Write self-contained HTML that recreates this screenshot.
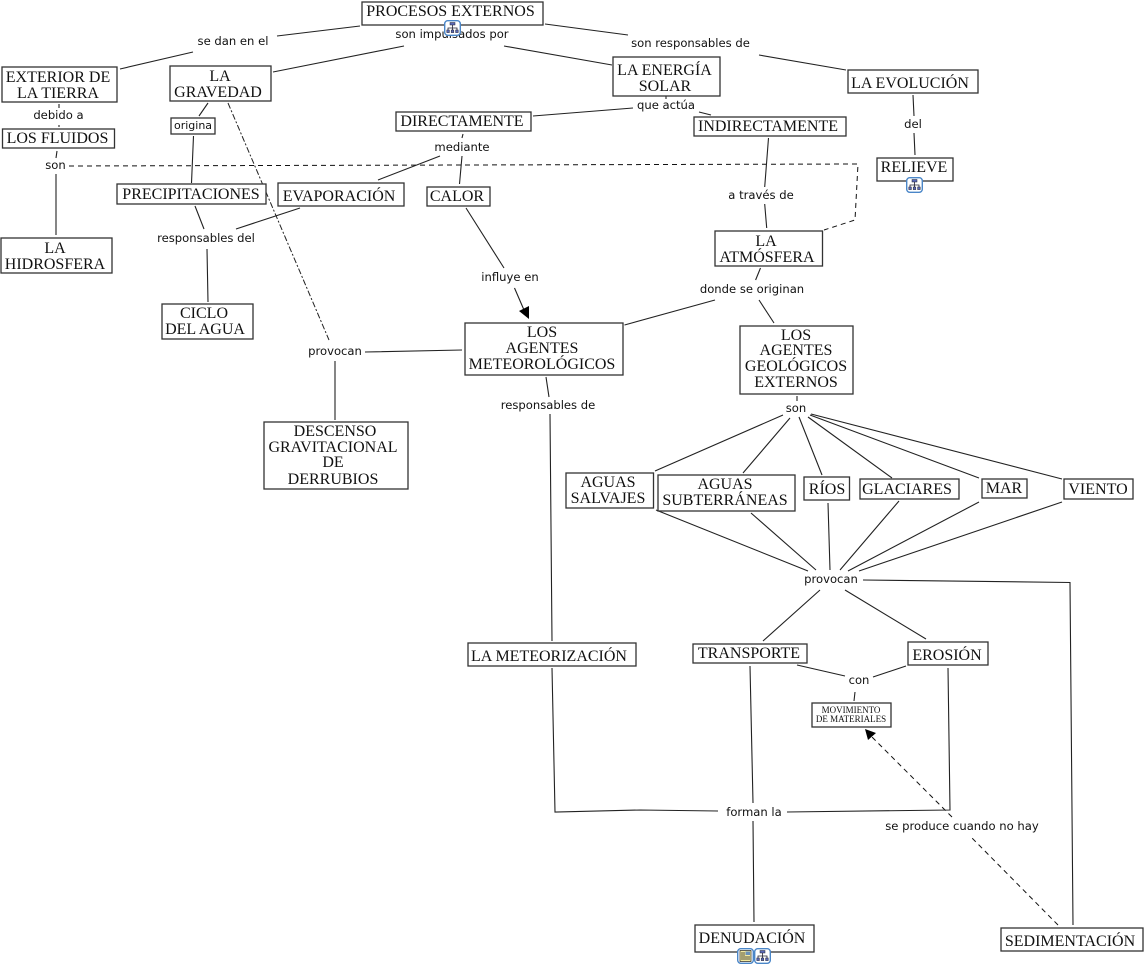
<!DOCTYPE html>
<html><head><meta charset="utf-8"><style>
html,body{margin:0;padding:0;background:#fff;width:1146px;height:967px;overflow:hidden}
svg{display:block}
.n{font-family:"Liberation Serif",serif;font-size:16px;fill:#111;text-anchor:middle}
.l{font-family:"DejaVu Sans","Liberation Sans",sans-serif;font-size:11.6px;fill:#111;text-anchor:middle}
.b{fill:#fff;stroke:#333;stroke-width:1.3}
.c{fill:none;stroke:#222;stroke-width:1.1}
.d{fill:none;stroke:#111;stroke-width:1;stroke-dasharray:5 4}
.dd{fill:none;stroke:#222;stroke-width:1;stroke-dasharray:6 2 2 2}
</style></head><body>
<svg width="1146" height="967" viewBox="0 0 1146 967" xmlns="http://www.w3.org/2000/svg">
<defs>
<symbol id="t" viewBox="0 0 17 16"><rect x=".7" y=".7" width="15.6" height="14.6" rx="3" fill="#fff" stroke="#4a86c8" stroke-width="1.4"/><path d="M8.5 5V8M4 10V8H13V10M8.5 8V10" fill="none" stroke="#223" stroke-width=".8"/><rect x="6" y="2.5" width="5" height="2.5" fill="#5a6ab8" stroke="#223" stroke-width=".5"/><rect x="2.8" y="10" width="2.6" height="2.6" fill="#5a6ab8" stroke="#223" stroke-width=".5"/><rect x="7.2" y="10" width="2.6" height="2.6" fill="#5a6ab8" stroke="#223" stroke-width=".5"/><rect x="11.6" y="10" width="2.6" height="2.6" fill="#5a6ab8" stroke="#223" stroke-width=".5"/></symbol>
<symbol id="p" viewBox="0 0 17 16"><rect x=".7" y=".7" width="15.6" height="14.6" rx="3" fill="#fff" stroke="#4a86c8" stroke-width="1.4"/><rect x="3" y="2.5" width="11" height="11" fill="#f2e9a0" stroke="#222" stroke-width=".7"/><rect x="8.5" y="3.5" width="4.5" height="3.5" fill="#6a90b8"/><path d="M4 5H8M4 7H8M4 9H13M4 11H13" stroke="#222" stroke-width=".7"/></symbol>
</defs>
<polyline class="dd" points="228,103 329,340"/>
<polyline class="d" points="69,166 858,164 855,220 824,230"/>
<polyline class="d" points="1058,925 972,838"/>
<polyline class="d" points="952,817 872,737"/>
<g class="c">
<path d="M360,26L277,36M193,52L120,69"/>
<path d="M404,46L273,72M504,46L612,65"/>
<path d="M545,24L628,35M759,55L846,70"/>
<path d="M666,96L666,99M633,108L533,116M699,112L711,115"/>
<path d="M59,104L59,108M59,125L59,127M57,151L56,158M56,174L56,235"/>
<path d="M208,103L199,116M193.5,136L191.5,183"/>
<path d="M365,352L462,350M335,361L335,420"/>
<path d="M195,206L204,229M300,208L236,229M207,249L208,302"/>
<path d="M463,134L462,138M440,156L378,180M462,156L459.500,184"/>
<path d="M466,208L504,268M514.500,288L524,310"/>
<path d="M768.500,138L764.700,187M764.700,204L766.700,228"/>
<path d="M913,95L914,116M914,133L915,155"/>
<path d="M760.500,268L755.600,280M715,300L624.500,325M759,300L774,323"/>
<path d="M546,377L549,397M550,414L552,641"/>
<path d="M797,396L797,401M783,415L655,471M790,418L743,473M799,417L822,475M808,417L892,478M810,415L979,478M811,414L1062,479"/>
<path d="M656,510L808,571M751,513L816,570M828,503L830,570M899,501L840,570M979,502L848,571M1062,502L859,571"/>
<path d="M863,580L1070,582.500L1073,925"/>
<path d="M820,590L763,641M845,590L926,639"/>
<path d="M797,665L845,676M906,666L873,677M855,692L854,701"/>
<path d="M750,666L753,803M753,821L754,922"/>
<path d="M552,668L555,812L640,810L718,811"/>
<path d="M948,668L950,810L787,812"/>
</g>
<polygon points="529,319 519,311 529,306" fill="#000"/>
<polygon points="865,729 868,740 876,733" fill="#000"/>
<g class="b">
<rect x="362" y="2" width="181" height="23"/>
<rect x="2" y="67" width="115" height="35"/>
<rect x="170" y="66" width="101" height="35"/>
<rect x="2.500" y="129" width="112" height="19"/>
<rect x="171" y="118" width="44" height="16"/>
<rect x="117" y="184" width="149" height="20"/>
<rect x="278" y="183" width="126" height="23"/>
<rect x="427" y="187" width="63" height="19"/>
<rect x="396" y="112" width="135" height="19"/>
<rect x="1" y="238" width="111" height="35"/>
<rect x="162" y="304" width="91" height="35"/>
<rect x="613" y="57" width="107" height="39"/>
<rect x="848" y="70" width="130" height="23"/>
<rect x="694" y="117" width="152" height="19"/>
<rect x="877" y="158" width="76" height="23"/>
<rect x="715" y="231" width="107.500" height="35"/>
<rect x="465" y="323" width="158" height="52"/>
<rect x="740" y="326" width="113" height="68"/>
<rect x="264" y="422" width="144" height="67"/>
<rect x="566" y="473" width="87.500" height="35"/>
<rect x="658" y="475" width="137" height="36"/>
<rect x="804" y="477" width="45.500" height="23"/>
<rect x="860" y="479" width="99" height="20"/>
<rect x="982" y="479" width="45" height="19"/>
<rect x="1064" y="479" width="69" height="20"/>
<rect x="468" y="643" width="168" height="23"/>
<rect x="693" y="644" width="114" height="19"/>
<rect x="908" y="642" width="80" height="23"/>
<rect x="812" y="703" width="79" height="24"/>
<rect x="695" y="925" width="119" height="27"/>
<rect x="1001" y="928" width="142" height="23"/>
</g>
<g class="n">
<text x="450.500" y="16">PROCESOS EXTERNOS</text>
<text x="58" y="82">EXTERIOR DE</text><text x="58" y="98">LA TIERRA</text>
<text x="220" y="81">LA</text><text x="218" y="97">GRAVEDAD</text>
<text x="57.500" y="143">LOS FLUIDOS</text>
<text x="191" y="199">PRECIPITACIONES</text>
<text x="339" y="201">EVAPORACIÓN</text>
<text x="457" y="201">CALOR</text>
<text x="462" y="126">DIRECTAMENTE</text>
<text x="55" y="253">LA</text><text x="55" y="269">HIDROSFERA</text>
<text x="204" y="318">CICLO</text><text x="205" y="334">DEL AGUA</text>
<text x="664.500" y="75">LA ENERGÍA</text><text x="665" y="91">SOLAR</text>
<text x="910" y="88">LA EVOLUCIÓN</text>
<text x="768" y="131">INDIRECTAMENTE</text>
<text x="914" y="172">RELIEVE</text>
<text x="766" y="246">LA</text><text x="767" y="262">ATMÓSFERA</text>
<text x="542" y="337">LOS</text><text x="542" y="353">AGENTES</text><text x="542" y="369">METEOROLÓGICOS</text>
<text x="796" y="340">LOS</text><text x="796" y="355">AGENTES</text><text x="796" y="371">GEOLÓGICOS</text><text x="796" y="387">EXTERNOS</text>
<text x="335" y="436">DESCENSO</text><text x="333" y="452">GRAVITACIONAL</text><text x="333" y="467">DE</text><text x="333" y="484">DERRUBIOS</text>
<text x="608" y="487">AGUAS</text><text x="608" y="503">SALVAJES</text>
<text x="725" y="489">AGUAS</text><text x="725" y="505">SUBTERRÁNEAS</text>
<text x="827" y="494">RÍOS</text>
<text x="907" y="494">GLACIARES</text>
<text x="1004" y="493">MAR</text>
<text x="1098" y="494">VIENTO</text>
<text x="549" y="661">LA METEORIZACIÓN</text>
<text x="749" y="658">TRANSPORTE</text>
<text x="947" y="660">EROSIÓN</text>
<text x="752" y="943">DENUDACIÓN</text>
<text x="1070" y="946">SEDIMENTACIÓN</text>
<text x="851" y="713" style="font-size:9px">MOVIMIENTO</text><text x="851" y="722" style="font-size:9px">DE MATERIALES</text>
</g>
<g class="l">
<text x="233" y="45">se dan en el</text>
<text x="452" y="38">son impulsados por</text>
<text x="690.500" y="47">son responsables de</text>
<text x="58.500" y="119">debido a</text>
<text x="193" y="129" style="font-size:11px">origina</text>
<text x="666" y="109">que actúa</text>
<text x="55.500" y="169">son</text>
<text x="462" y="151">mediante</text>
<text x="206" y="242">responsables del</text>
<text x="510" y="281">influye en</text>
<text x="761" y="199">a través de</text>
<text x="913" y="128">del</text>
<text x="752" y="293">donde se originan</text>
<text x="335" y="355">provocan</text>
<text x="548" y="409">responsables de</text>
<text x="796" y="412">son</text>
<text x="831" y="583">provocan</text>
<text x="859" y="684">con</text>
<text x="754" y="816">forman la</text>
<text x="962" y="830">se produce cuando no hay</text>
</g>
<use href="#t" x="444" y="20" width="17" height="16"/>
<use href="#t" x="906" y="177" width="17" height="16"/>
<use href="#p" x="737" y="948" width="17" height="16"/>
<use href="#t" x="754" y="948" width="17" height="16"/>
</svg>
</body></html>
